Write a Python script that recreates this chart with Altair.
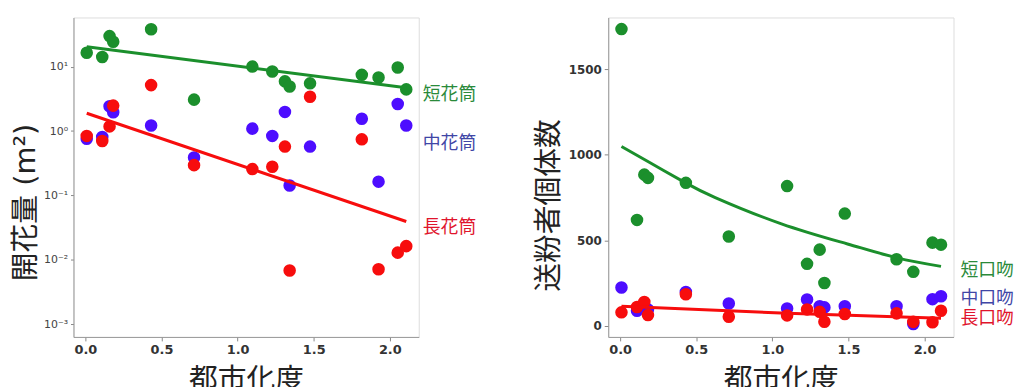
import altair as alt
import pandas as pd

# ---- data ----
sites = [0.009, 0.111, 0.159, 0.183, 0.432, 0.714, 1.097, 1.228, 1.311, 1.342, 1.476, 1.816, 1.926, 2.052, 2.108]

groups_left = ["短花筒", "中花筒", "長花筒"]
flower_short = [16.4, 14.1, 29.7, 24.3, 38.0, 3.07, 10.0, 8.4, 5.9, 4.9, 5.5, 7.45, 6.76, 9.66, 4.43]
flower_mid = [0.76, 0.81, 2.42, 1.96, 1.22, 0.389, 1.09, 0.84, 1.98, 0.143, 0.574, 1.55, 0.164, 2.63, 1.22]
flower_long = [0.84, 0.70, 1.18, 2.48, 5.16, 0.296, 0.257, 0.279, 0.574, 0.00686, 3.41, 0.744, 0.00718, 0.013, 0.0164]

groups_right = ["短口吻", "中口吻", "長口吻"]
poll_short = [1736, 619, 884, 865, 836, 522, 817, 362, 445, 250, 656, 389, 315, 486, 474]
poll_mid = [223, 87, 115, 95, 197, 130, 101, 153, 114, 107, 114, 114, 10, 155, 172]
poll_long = [78, 109, 139, 62, 184, 52, 60, 95, 81, 23, 68, 72, 22, 20, 87]

# fitted lines
fit_left_x = [0.009, 2.108]
fit_left_short = [20.3, 4.7]
fit_left_long = [1.89, 0.0395]

fit_right_short_x = [0.009, 0.2, 0.43, 0.625, 1.06, 1.494, 1.82, 2.108]
fit_right_short = [1049, 952, 836, 750, 596, 478, 397, 347]
fit_right_long_x = [0.009, 1.097, 2.108]
fit_right_long = [114, 72, 44]

x_ticks = [0.0, 0.5, 1.0, 1.5, 2.0]
y_ticks_left = [0.001, 0.01, 0.1, 1, 10]
y_ticks_right = [0, 500, 1000, 1500]

point_colors = ["#1b8f2c", "#4d0dff", "#f70d0d"]
line_colors = ["#1b8f2c", "#4d0dff", "#f50a0a"]
label_colors = ["#2a8a3a", "#3f46a6", "#e0142c"]

# ---- build tables ----
def long_table(groups, series):
    rows = []
    for g, vals in zip(groups, series):
        for x, v in zip(sites, vals):
            rows.append({"x": x, "v": v, "g": g})
    return pd.DataFrame(rows)

df_left = long_table(groups_left, [flower_short, flower_mid, flower_long])
df_right = long_table(groups_right, [poll_short, poll_mid, poll_long])

fit_left = pd.DataFrame(
    [{"x": x, "v": v, "g": groups_left[0]} for x, v in zip(fit_left_x, fit_left_short)]
    + [{"x": x, "v": v, "g": groups_left[2]} for x, v in zip(fit_left_x, fit_left_long)]
)
fit_right = pd.DataFrame(
    [{"x": x, "v": v, "g": groups_right[0]} for x, v in zip(fit_right_short_x, fit_right_short)]
    + [{"x": x, "v": v, "g": groups_right[2]} for x, v in zip(fit_right_long_x, fit_right_long)]
)

W, H = 348, 322
CJK = "Noto Sans CJK JP"
TITLE_FONT = "DejaVu Sans, Noto Sans CJK JP"

x_scale = alt.Scale(domain=[-0.078, 2.19], nice=False, zero=False)

def x_axis():
    return alt.Axis(
        title="都市化度", values=x_ticks, format=".1f", grid=False,
        labelFont="DejaVu Sans", labelFontWeight="bold", labelFontSize=13, labelColor="#333",
        labelPadding=3, tickSize=4, tickColor="#888", domainColor="#999",
        titleFont=CJK, titleFontSize=29, titleFontWeight="normal", titleColor="#222",
        titleY=43, titleBaseline="middle",
    )

left_label_expr = (
    "round(log(datum.value)/LN10) == 1 ? '10¹' : "
    "round(log(datum.value)/LN10) == 0 ? '10⁰' : "
    "round(log(datum.value)/LN10) == -1 ? '10⁻¹' : "
    "round(log(datum.value)/LN10) == -2 ? '10⁻²' : '10⁻³'"
)

y_axis_left = alt.Axis(
    title="開花量 (m²)", values=y_ticks_left, labelExpr=left_label_expr, grid=False,
    labelFont="DejaVu Sans", labelFontSize=11, labelColor="#444", labelPadding=3,
    tickSize=3, tickColor="#888", domainColor="#999",
    titleFont=TITLE_FONT, titleFontSize=29, titleFontWeight="normal", titleColor="#222",
    titleX=-48, titleY=186, titleBaseline="middle", titleAlign="center",
)

y_axis_right = alt.Axis(
    title="送粉者個体数", values=y_ticks_right, format="d", grid=False,
    labelFont="DejaVu Sans", labelFontWeight="bold", labelFontSize=12, labelColor="#333", labelPadding=3,
    tickSize=4, tickColor="#888", domainColor="#999",
    titleFont=CJK, titleFontSize=29, titleFontWeight="normal", titleColor="#222",
    titleX=-60, titleY=189, titleBaseline="middle", titleAlign="center",
)


def label_layer(text, color, px, py):
    return alt.Chart(pd.DataFrame({"t": [text]})).mark_text(
        align="left", baseline="middle", font=CJK, fontSize=18, color=color
    ).encode(x=alt.value(px), y=alt.value(py), text="t:N")


def panel(df, fit, groups, y_scale, y_axis, label_x, label_ys):
    color = alt.Color("g:N", scale=alt.Scale(domain=groups, range=point_colors), legend=None)
    pts = alt.Chart(df).mark_circle(size=160, opacity=1).encode(
        x=alt.X("x:Q", scale=x_scale, axis=x_axis()),
        y=alt.Y("v:Q", scale=y_scale, axis=y_axis),
        color=color,
    )
    lines = alt.Chart(fit).mark_line(strokeWidth=3, interpolate="natural").encode(
        x="x:Q", y="v:Q",
        color=alt.Color("g:N", scale=alt.Scale(domain=groups, range=line_colors), legend=None),
    )
    texts = [label_layer(g, c, label_x, ly) for g, c, ly in zip(groups, label_colors, label_ys)]
    return alt.layer(pts, lines, *texts).properties(width=W, height=H)


left = panel(
    df_left, fit_left, groups_left,
    alt.Scale(type="log", domain=[0.00064, 57.8], nice=False),
    y_axis_left, 352, [78, 128, 212],
)
right = panel(
    df_right, fit_right, groups_right,
    alt.Scale(domain=[-66, 1804], nice=False, zero=False),
    y_axis_right, 355, [256, 284, 304],
)

chart = alt.hconcat(left, right, spacing=191, bounds="flush").properties(
    padding={"left": 3, "top": 7, "right": 0, "bottom": 0}
).configure_view(stroke="#999", strokeWidth=1).configure(background="white")

chart.save("out.html", embed_options={"renderer": "svg", "actions": False})
